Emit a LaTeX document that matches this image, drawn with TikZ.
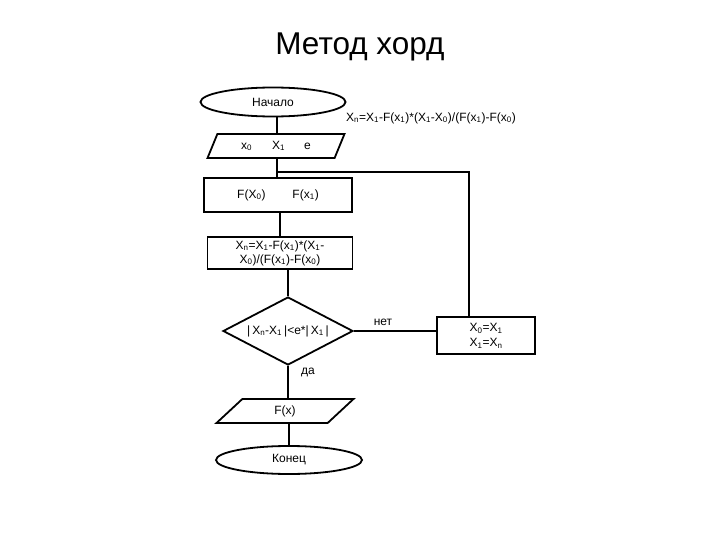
\documentclass[tikz,border=0pt]{standalone}
\usepackage{fontspec}
\setmainfont{Liberation Sans}
\usetikzlibrary{shapes.geometric}
\newcommand{\ind}[1]{\textsubscript{#1}}
\begin{document}
\begin{tikzpicture}[x=1pt,y=-1pt,line width=1.8pt,
		every node/.style={font=\fontsize{12}{14}\selectfont},
		term/.style={draw,ellipse,minimum width=145pt,minimum height=29pt,inner sep=0pt},
		io/.style={draw,trapezium,trapezium left angle=60,trapezium right angle=120,trapezium stretches=true,minimum width=137pt,minimum height=24pt,inner sep=0pt},
		proc/.style={draw,rectangle,inner sep=0pt},
		test/.style={draw,diamond,aspect=1.9,minimum width=130pt,minimum height=68pt,inner sep=0pt}]
		\useasboundingbox (0,0) rectangle (720,540);
		\node (title) at (360,47) {\fontsize{31.5}{36}\selectfont Метод хорд};
		\node[term] (start) at (273,102) {Начало};
		\node (rule) at (431,118) {X\ind{n}=X\ind{1}-F(x\ind{1})*(X\ind{1}-X\ind{0})/(F(x\ind{1})-F(x\ind{0})};
		\node[io] (input) at (276,146) {x\ind{0}\hspace{20pt}X\ind{1}\hspace{19pt}e};
		\node[proc,minimum width=148pt,minimum height=34pt] (fbox) at (278,195) {F(X\ind{0})\hspace{27pt}F(x\ind{1})\hspace{12pt}};
		\node[proc,minimum width=145pt,minimum height=32pt,align=center] (calc) at (280,253) {X\ind{n}=X\ind{1}-F(x\ind{1})*(X\ind{1}-\\X\ind{0})/(F(x\ind{1})-F(x\ind{0})};
		\node[test] (check) at (288,331) {|\,X\ind{n}-X\ind{1}\,|<e*|\,X\ind{1}\,|};
		\node[proc,minimum width=98pt,minimum height=37pt,align=center] (update) at (486,335.5) {X\ind{0}=X\ind{1}\hspace{10pt}\\[1pt]X\ind{1}=X\ind{n}\hspace{10pt}};
		\node[io] (output) at (285,411) {F(x)};
		\node[term,minimum width=146pt,minimum height=28pt] (stop) at (289,460) {Конец};
		\node (no) at (383,322) {нет};
		\node (yes) at (308,372) {да};
		\coordinate (join) at (277,172);
		\coordinate (back) at (469,172);
		% основная линия
		\draw (start.south -| join) -- (input.north -| join);
		\draw (input.south -| join) -- (fbox.north -| join);
		\draw (fbox.south -| calc) -- (calc.north);
		\draw (calc.south -| check) -- (check.north);
		\draw (check.south) -- (output.north -| check);
		\draw (output.south -| stop) -- (stop.north);
		% цикл
		\draw (check.east) -- (check.east -| update.west);
		\draw (join) -- (back) -- (back |- update.north);
	\end{tikzpicture}
\end{document}
